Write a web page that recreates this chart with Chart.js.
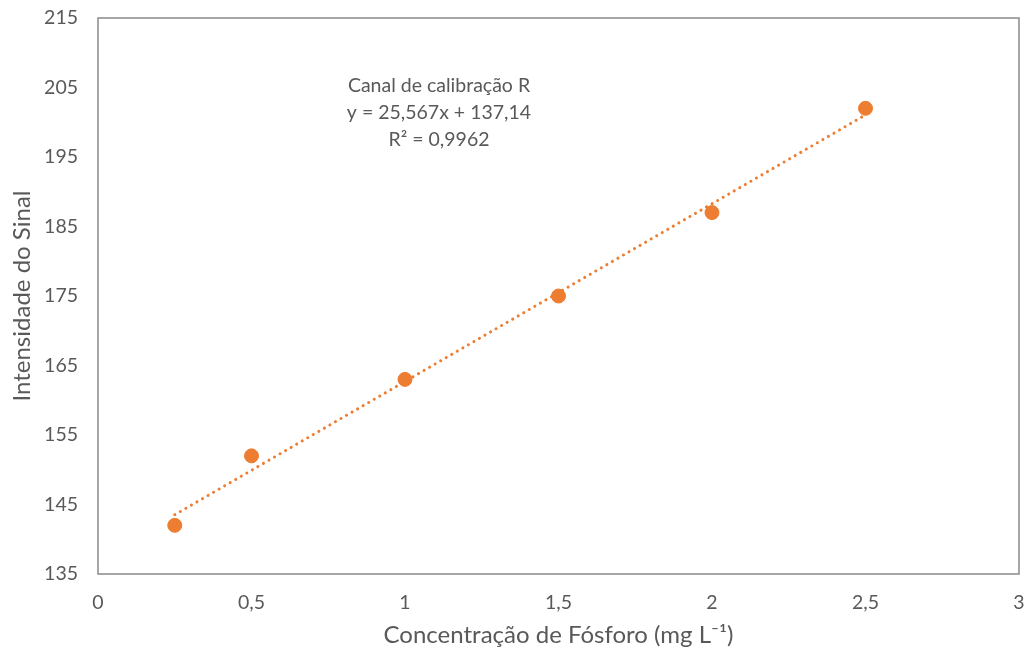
<!DOCTYPE html>
<html>
<head>
<meta charset="utf-8">
<script src="https://cdn.jsdelivr.net/npm/chart.js@4/dist/chart.umd.min.js"></script>
<style>
html,body{margin:0;padding:0;background:#fff;}
#wrap{width:1027px;height:650px;}
</style>
</head>
<body>
<div id="wrap"><canvas id="c" width="1027" height="650"></canvas></div>
<script>
const concentrations = [0.25, 0.5, 1, 1.5, 2, 2.5];
const signal = [142, 152, 163, 175, 187, 202];
const trendX = [0.25, 2.5];
const trendY = [143.53, 201.06];
const xTickLabels = ['0', '0,5', '1', '1,5', '2', '2,5', '3'];
const yTickLabels = ['135', '145', '155', '165', '175', '185', '195', '205', '215'];
const annotationLines = ['Canal de calibração R', 'y = 25,567x + 137,14', 'R² = 0,9962'];

const FONT = 'Lato, "Open Sans", sans-serif';
const TXT = '#595959';
const ORANGE = '#ED7D31';

const framePlugin = {
  id: 'frame',
  beforeDatasetsDraw(chart) {
    const {ctx, chartArea: a} = chart;
    ctx.save();
    ctx.strokeStyle = '#898989';
    ctx.lineWidth = 1.5;
    ctx.strokeRect(a.left, a.top, a.right - a.left, a.bottom - a.top);
    ctx.restore();
  },
  afterDraw(chart) {
    const {ctx} = chart;
    ctx.save();
    ctx.fillStyle = TXT;
    ctx.font = '19.5px ' + FONT;
    ctx.textAlign = 'center';
    ctx.textBaseline = 'middle';
    const cx = 439, y0 = 86, dy = 27;
    annotationLines.forEach((t, i) => ctx.fillText(t, cx, y0 + i * dy));
    ctx.restore();
  }
};

new Chart(document.getElementById('c'), {
  type: 'scatter',
  data: {
    datasets: [
      {
        label: 'Canal R',
        data: concentrations.map((x, i) => ({x, y: signal[i]})),
        backgroundColor: ORANGE,
        borderColor: ORANGE,
        pointRadius: 7,
        pointHoverRadius: 7,
        order: 1
      },
      {
        label: 'Linear',
        type: 'line',
        data: trendX.map((x, i) => ({x, y: trendY[i]})),
        borderColor: ORANGE,
        borderWidth: 3,
        borderDash: [0.1, 6.3],
        borderCapStyle: 'round',
        pointRadius: 0,
        fill: false,
        order: 2
      }
    ]
  },
  options: {
    responsive: false,
    animation: false,
    events: [],
    layout: {padding: {top: 18, right: 7, left: 0, bottom: 0}},
    plugins: {legend: {display: false}, tooltip: {enabled: false}},
    scales: {
      x: {
        type: 'linear',
        min: 0, max: 3,
        afterBuildTicks(scale) {
          scale.ticks = xTickLabels.map((_, i) => ({value: i * 0.5}));
        },
        afterFit(scale) {
          scale.height = 76;
          scale.paddingLeft = 0; scale.paddingRight = 0;
        },
        grid: {display: false, drawTicks: false},
        border: {display: false},
        ticks: {
          color: TXT, font: {family: FONT, size: 19.5}, padding: 17,
          maxRotation: 0, autoSkip: false,
          callback: (v, i) => xTickLabels[i]
        },
        title: {
          display: true, text: 'Concentração de Fósforo (mg L⁻¹)',
          color: TXT, font: {family: FONT, size: 24}, padding: {top: 0, bottom: 0}
        }
      },
      y: {
        type: 'linear',
        min: 135, max: 215,
        afterBuildTicks(scale) {
          scale.ticks = yTickLabels.map(v => ({value: Number(v)}));
        },
        afterFit(scale) {
          scale.width = 98;
          scale.paddingTop = 0; scale.paddingBottom = 0;
        },
        grid: {display: false, drawTicks: false},
        border: {display: false},
        ticks: {
          color: TXT, font: {family: FONT, size: 19.5}, padding: 20,
          autoSkip: false,
          callback: (v, i) => yTickLabels[i]
        },
        title: {
          display: true, text: 'Intensidade do Sinal',
          color: TXT, font: {family: FONT, size: 24}, padding: {top: 8, bottom: 0}
        }
      }
    }
  },
  plugins: [framePlugin]
});
</script>
</body>
</html>
